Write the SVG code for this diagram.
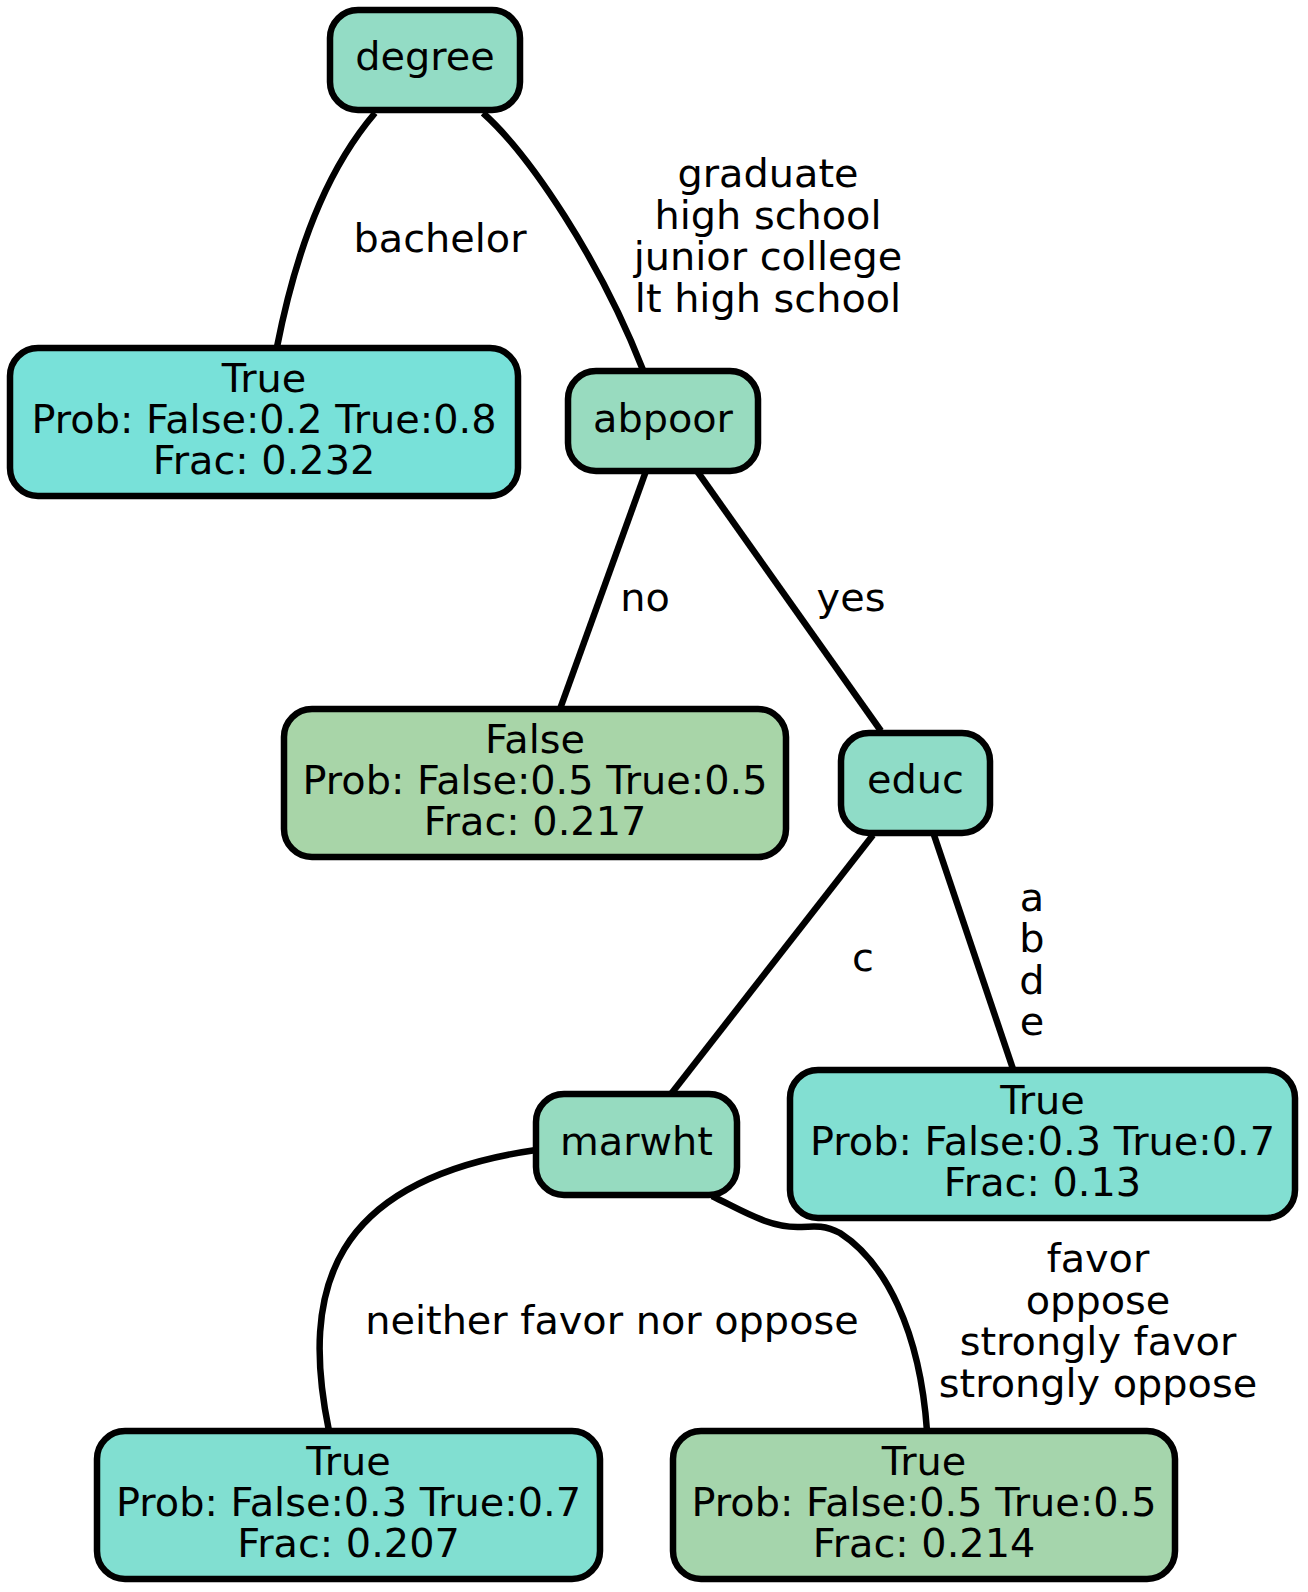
<svg xmlns="http://www.w3.org/2000/svg" width="1308" height="1592" viewBox="0 0 1308 1592">
<style>
.n{stroke:#000;stroke-width:6.5}
text{font-family:"DejaVu Sans","Liberation Sans",sans-serif;font-size:39.8px;fill:#000;text-anchor:middle}
.e{fill:none;stroke:#000;stroke-width:6.5}
</style>
<rect width="1308" height="1592" fill="#fff"/>
<g id="edges">
<path class="e" d="M375,113 C335,160 300,230 277,347"/>
<path class="e" d="M483,113 C530,155 600,260 643,370"/>
<path class="e" d="M646,471 L560,709"/>
<path class="e" d="M697,471 L881,731"/>
<path class="e" d="M873,835 L671,1094"/>
<path class="e" d="M934,835 L1013,1069"/>
<path class="e" d="M536,1150 C330,1180 300,1290 329,1431"/>
<path class="e" d="M712,1196 C745,1212 770,1228 800,1227 C815,1226 825,1225 840,1233 C885,1262 920,1330 927,1431"/>
<text x="440" y="252">bachelor</text>
<text x="768" y="187">graduate<tspan x="768" dy="41.5">high school</tspan><tspan x="768" dy="41.5">junior college</tspan><tspan x="768" dy="41.5">lt high school</tspan></text>
<text x="645" y="611">no</text>
<text x="851" y="611">yes</text>
<text x="863" y="971">c</text>
<text x="1032" y="911">a<tspan x="1032" dy="41.3">b</tspan><tspan x="1032" dy="41.3">d</tspan><tspan x="1032" dy="41.3">e</tspan></text>
<text x="612" y="1334">neither favor nor oppose</text>
<text x="1098" y="1272">favor<tspan x="1098" dy="41.5">oppose</tspan><tspan x="1098" dy="41.5">strongly favor</tspan><tspan x="1098" dy="41.5">strongly oppose</tspan></text>
</g>
<g id="degree">
<rect class="n" x="330" y="10" width="190" height="100" rx="28" fill="#93DCC5"/>
<text x="425" y="70">degree</text>
</g>
<g id="leaf_0232">
<rect class="n" x="10" y="348" width="508" height="148" rx="28" fill="#78E1D9"/>
<text x="264" y="392">True<tspan x="264" dy="41">Prob: False:0.2 True:0.8</tspan><tspan x="264" dy="41">Frac: 0.232</tspan></text>
</g>
<g id="abpoor">
<rect class="n" x="568" y="371" width="190" height="100" rx="28" fill="#98DBBF"/>
<text x="663" y="431.5">abpoor</text>
</g>
<g id="leaf_0217">
<rect class="n" x="284" y="709" width="502" height="148" rx="28" fill="#A8D5A8"/>
<text x="535" y="753">False<tspan x="535" dy="41">Prob: False:0.5 True:0.5</tspan><tspan x="535" dy="41">Frac: 0.217</tspan></text>
</g>
<g id="educ">
<rect class="n" x="841" y="733" width="149" height="100" rx="28" fill="#8FDCC7"/>
<text x="915.5" y="793">educ</text>
</g>
<g id="marwht">
<rect class="n" x="536" y="1094" width="201" height="101" rx="28" fill="#96DBC0"/>
<text x="636.5" y="1155">marwht</text>
</g>
<g id="leaf_013">
<rect class="n" x="790" y="1070" width="505" height="148" rx="28" fill="#82DFD2"/>
<text x="1042.5" y="1114">True<tspan x="1042.5" dy="41">Prob: False:0.3 True:0.7</tspan><tspan x="1042.5" dy="41">Frac: 0.13</tspan></text>
</g>
<g id="leaf_0207">
<rect class="n" x="97" y="1431" width="503" height="148" rx="28" fill="#81DFD1"/>
<text x="348.5" y="1475">True<tspan x="348.5" dy="41">Prob: False:0.3 True:0.7</tspan><tspan x="348.5" dy="41">Frac: 0.207</tspan></text>
</g>
<g id="leaf_0214">
<rect class="n" x="673" y="1431" width="502" height="148" rx="28" fill="#A5D5AC"/>
<text x="924" y="1475">True<tspan x="924" dy="41">Prob: False:0.5 True:0.5</tspan><tspan x="924" dy="41">Frac: 0.214</tspan></text>
</g>
</svg>
